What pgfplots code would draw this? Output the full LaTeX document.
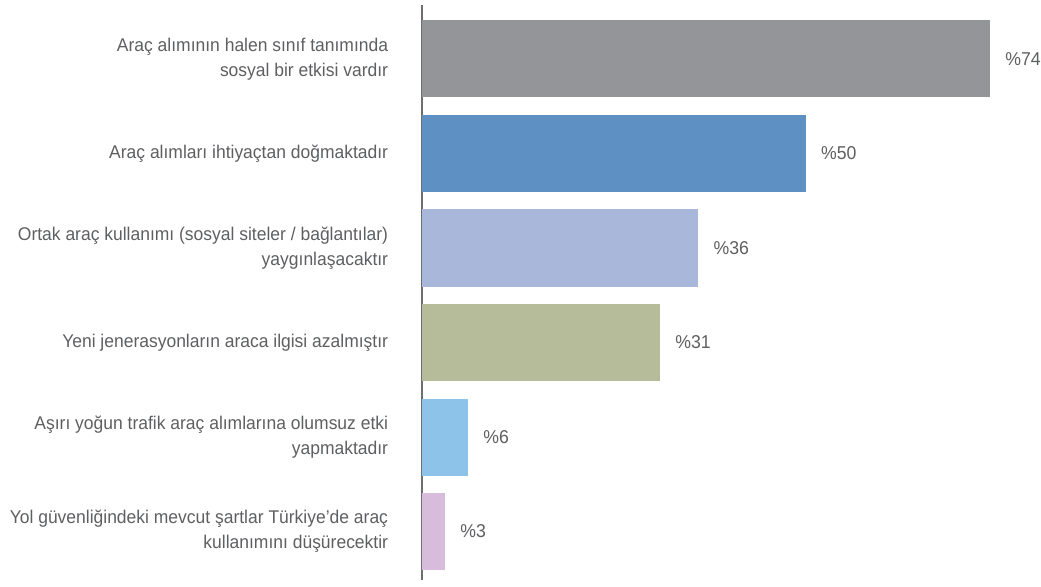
\documentclass[border=0pt]{standalone}
\usepackage{fontspec}
\setmainfont[FakeStretch=0.95]{Liberation Sans}
\usepackage{pgfplots}
\pgfplotsset{compat=1.18}

\definecolor{cgray}{HTML}{939598}
\definecolor{cblue}{HTML}{5F90C4}
\definecolor{clav}{HTML}{A9B7DA}
\definecolor{colive}{HTML}{B6BB9A}
\definecolor{clight}{HTML}{8DC3E9}
\definecolor{cpink}{HTML}{D7BCDC}
\definecolor{txt}{HTML}{5E5F61}
\definecolor{axl}{HTML}{6D6E70}

\begin{document}
\begin{tikzpicture}
\begin{axis}[
  xbar,
  scale only axis,
  width=284pt, height=287.5pt,
  xmin=0, xmax=74,
  ymin=-0.571, ymax=5.513,
  y dir=reverse,
  bar width=0.815,
  bar shift=0pt,
  clip=false,
  axis x line=none,
  axis y line*=left,
  y axis line style={draw=axl, line width=0.8pt, -},
  ytick={0,1,2,3,4,5},
  ytick style={draw=none},
  yticklabels={
    {Araç alımının halen sınıf tanımında\\sosyal bir etkisi vardır},
    {Araç alımları ihtiyaçtan doğmaktadır},
    {Ortak araç kullanımı (sosyal siteler / bağlantılar)\\yaygınlaşacaktır},
    {Yeni jenerasyonların araca ilgisi azalmıştır},
    {Aşırı yoğun trafik araç alımlarına olumsuz etki\\yapmaktadır},
    {Yol güvenliğindeki mevcut şartlar Türkiye’de araç\\kullanımını düşürecektir}},
  yticklabel style={align=right, anchor=east, inner sep=0pt, xshift=-12.5pt,
    font=\fontsize{9.2pt}{12.5pt}\selectfont, text=txt},
  nodes near coords={\%\pgfmathprintnumber[assume math mode=true]{\pgfplotspointmeta}},
  nodes near coords style={anchor=west, inner sep=0pt, xshift=7.5pt,
    font=\fontsize{9.3pt}{12.5pt}\selectfont, text=txt},
]
\addplot[fill=cgray, draw=none] coordinates {(74,0)};
\addplot[fill=cblue, draw=none] coordinates {(50,1)};
\addplot[fill=clav, draw=none] coordinates {(36,2)};
\addplot[fill=colive, draw=none] coordinates {(31,3)};
\addplot[fill=clight, draw=none] coordinates {(6,4)};
\addplot[fill=cpink, draw=none] coordinates {(3,5)};
\end{axis}
\pgfresetboundingbox
\path (-211pt,-3pt) rectangle (309.5pt,290pt);
\end{tikzpicture}
\end{document}
